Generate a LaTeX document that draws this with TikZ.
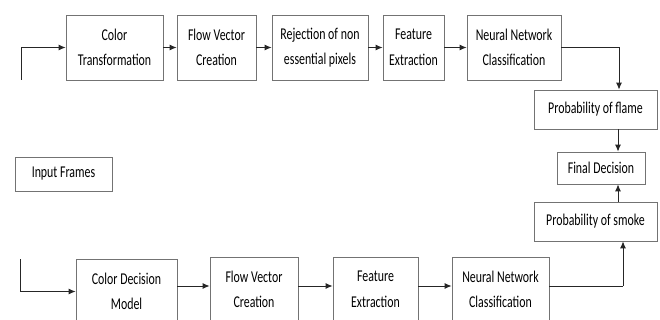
\documentclass[tikz,border=0pt]{standalone}
\usepackage{fontspec}
\setmainfont{Carlito}[FakeStretch=0.72]
\usetikzlibrary{arrows.meta}
\begin{document}
\begin{tikzpicture}[x=1pt,y=-1pt,
  box/.style={draw=black!55,line width=0.8pt,inner sep=0pt,align=center,
    font={\fontsize{16.5}{25.5}\selectfont},text=black},
  arr/.style={line width=0.9pt,draw=black!85,-{Latex[length=7pt,width=6pt]}},
  ln/.style={line width=0.9pt,draw=black!85}]
\useasboundingbox (0,0) rectangle (660,320);
\clip (0,0) rectangle (660,320);
% top row
\node[box,minimum width=97pt,minimum height=65pt] (b1) at (114.5,47.5) {Color\\Transformation};
\node[box,minimum width=79pt,minimum height=65pt] (b2) at (216.5,47.5) {Flow Vector\\Creation};
\node[box,minimum width=96pt,minimum height=65pt] (b3) at (320,47.5) {Rejection of non\\essential pixels};
\node[box,minimum width=61pt,minimum height=65pt] (b4) at (413.5,47.5) {Feature\\Extraction};
\node[box,minimum width=94pt,minimum height=65pt] (b5) at (514,47.5) {Neural Network\\Classification};
% right column
\node[box,minimum width=123pt,minimum height=39pt] (pf) at (595.5,109.5) {Probability of flame};
\node[box,minimum width=88pt,minimum height=32pt] (fd) at (601,168) {Final Decision};
\node[box,minimum width=123pt,minimum height=39pt] (ps) at (595.5,221.5) {Probability of smoke};
% input
\node[box,minimum width=97pt,minimum height=34pt] (inp) at (63.5,174) {Input Frames};
% bottom row
\node[box,minimum width=101pt,minimum height=65pt] (c1) at (126.5,291.5) {Color Decision\\Model};
\node[box,minimum width=88pt,minimum height=65pt] (c2) at (254,289.5) {Flow Vector\\Creation};
\node[box,minimum width=85pt,minimum height=65pt] (c3) at (375.5,289.5) {Feature\\Extraction};
\node[box,minimum width=97pt,minimum height=65pt] (c4) at (500.5,289.5) {Neural Network\\Classification};
% coordinates
\coordinate (s1) at (21,80);
\coordinate (s1b) at (21,47.5);
\coordinate (s2) at (20,259);
\coordinate (s2b) at (20,291.5);
\coordinate (k1) at (619,47.5);
\coordinate (k2) at (618,168);
\coordinate (k3) at (623,286);
\coordinate (r1) at (0,286);
% connectors top
\draw[ln] (s1) -- (s1b);
\draw[arr] (s1b) -- (b1.west);
\draw[arr] (b1) -- (b2);
\draw[arr] (b2) -- (b3);
\draw[arr] (b3) -- (b4);
\draw[arr] (b4) -- (b5);
\draw[ln] (b5.east) -- (k1);
\draw[arr] (k1) -- (k1 |- pf.north);
\draw[arr] (k2 |- pf.south) -- (k2 |- fd.north);
\draw[arr] (k2 |- ps.north) -- (k2 |- fd.south);
% connectors bottom
\draw[ln] (s2) -- (s2b);
\draw[arr] (s2b) -- (c1.west);
\draw[arr] (c1.east |- r1) -- (c2.west |- r1);
\draw[arr] (c2.east |- r1) -- (c3.west |- r1);
\draw[arr] (c3.east |- r1) -- (c4.west |- r1);
\draw[ln] (c4.east |- k3) -- (k3);
\draw[arr] (k3) -- (k3 |- ps.south);
\end{tikzpicture}
\end{document}
